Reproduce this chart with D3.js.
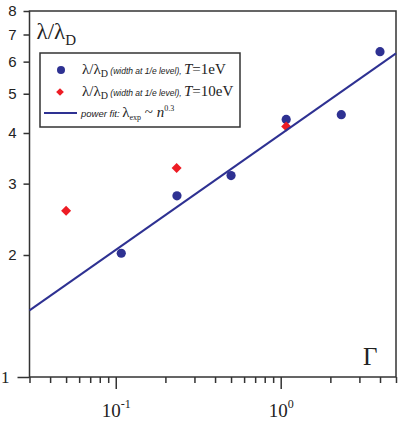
<!DOCTYPE html>
<html>
<head>
<meta charset="utf-8">
<script src="https://cdn.jsdelivr.net/npm/d3@7"></script>
<style>
  body { margin: 0; background: #fff; }
  .axis path, .axis line { stroke: #333; stroke-width: 1.5; }
  .serif { font-family: "Liberation Serif", "Times New Roman", serif; }
  .sans { font-family: "Liberation Sans", Arial, sans-serif; }
</style>
</head>
<body>
<script>

// values
var gamma1eV = [0.108, 0.235, 0.5, 1.08, 2.33, 4.0],
    ratio1eV = [2.02, 2.80, 3.14, 4.32, 4.44, 6.35];

var gamma10eV = [0.05, 0.234, 1.08],
    ratio10eV = [2.57, 3.28, 4.15];

// power fit end points (lambda ~ n^0.3)
var fitGamma = [0.03, 5],
    fitRatio = [1.46, 6.29];

var yTicks = [2, 3, 4, 5, 6, 7, 8],
    xMinorTicks = [0.03, 0.04, 0.05, 0.06, 0.07, 0.08, 0.09,
                   0.2, 0.3, 0.4, 0.5, 0.6, 0.7, 0.8, 0.9,
                   2, 3, 4, 5],
    xMajorTicks = [0.1, 1],
    xMajorLabels = ["-1", "0"];

var navy = "#2e3192",
    red = "#ed1c24";

var margin = {top: 11, right: 3, bottom: 45, left: 29.5},
    width = 399 - margin.left - margin.right,
    height = 422 - margin.top - margin.bottom;

var x = d3.scaleLog().domain([0.03, 5]).range([0, width]),
    y = d3.scaleLog().domain([1, 8]).range([height, 0]);

var svg = d3.select("body").append("svg")
    .attr("width", 399)
    .attr("height", 422)
    .append("g")
    .attr("transform", "translate(" + margin.left + "," + margin.top + ")");

// frame
svg.append("rect")
    .attr("width", width)
    .attr("height", height)
    .attr("fill", "none")
    .attr("stroke", "#333")
    .attr("stroke-width", 1.5);

// y axis: minor ticks with labels, major tick at 1
svg.append("g")
    .attr("class", "axis sans")
    .call(d3.axisLeft(y).tickValues(yTicks).tickSize(6).tickPadding(7)
        .tickFormat(d3.format("d")).tickSizeOuter(0))
    .call(function(g) { g.select(".domain").remove(); })
    .selectAll("text")
    .attr("font-size", 15)
    .attr("fill", "#222");

svg.append("g")
    .attr("class", "axis serif")
    .call(d3.axisLeft(y).tickValues([1]).tickSize(12).tickPadding(8)
        .tickFormat(d3.format("d")).tickSizeOuter(0))
    .call(function(g) { g.select(".domain").remove(); })
    .selectAll("text")
    .attr("font-size", 17)
    .attr("fill", "#222");

// x axis
svg.append("g")
    .attr("class", "axis")
    .attr("transform", "translate(0," + height + ")")
    .call(d3.axisBottom(x).tickValues(xMinorTicks).tickSize(6)
        .tickFormat("").tickSizeOuter(0))
    .call(function(g) { g.select(".domain").remove(); });

var xMaj = svg.append("g")
    .attr("class", "axis")
    .attr("transform", "translate(0," + height + ")")
    .call(d3.axisBottom(x).tickValues(xMajorTicks).tickSize(12)
        .tickFormat("").tickSizeOuter(0))
    .call(function(g) { g.select(".domain").remove(); });

xMaj.selectAll(".tick").append("text")
    .attr("class", "serif")
    .attr("y", 40)
    .attr("text-anchor", "middle")
    .attr("fill", "#222")
    .attr("font-size", 19)
    .each(function(d, i) {
        var t = d3.select(this);
        t.append("tspan").text("10");
        t.append("tspan").attr("font-size", 12).attr("dy", -9).text(xMajorLabels[i]);
    });

// data
svg.append("g").selectAll("circle")
    .data(gamma1eV)
    .enter().append("circle")
    .attr("cx", function(d) { return x(d); })
    .attr("cy", function(d, i) { return y(ratio1eV[i]); })
    .attr("r", 4.6)
    .attr("fill", navy);

var diamond = d3.symbol().type(d3.symbolSquare).size(50);

svg.append("g").selectAll("path")
    .data(gamma10eV)
    .enter().append("path")
    .attr("d", diamond)
    .attr("transform", function(d, i) {
        return "translate(" + x(d) + "," + y(ratio10eV[i]) + ") rotate(45)";
    })
    .attr("fill", red);

var line = d3.line()
    .x(function(d) { return x(d); })
    .y(function(d, i) { return y(fitRatio[i]); });

svg.append("path")
    .datum(fitGamma)
    .attr("d", line)
    .attr("fill", "none")
    .attr("stroke", navy)
    .attr("stroke-width", 2);

// axis titles
var yt = svg.append("text")
    .attr("class", "serif")
    .attr("x", 7)
    .attr("y", 28)
    .attr("font-size", 23)
    .attr("fill", "#222");
yt.append("tspan").text("λ/λ");
yt.append("tspan").attr("font-size", 15).attr("dy", 6).text("D");

svg.append("text")
    .attr("class", "serif")
    .attr("x", width - 33)
    .attr("y", height - 12)
    .attr("font-size", 25)
    .attr("fill", "#222")
    .text("Γ");

// legend
var legend = svg.append("g")
    .attr("transform", "translate(" + (40 - margin.left) + "," + (53 - margin.top) + ")");

legend.append("rect")
    .attr("width", 200)
    .attr("height", 74)
    .attr("fill", "#fff")
    .attr("stroke", "#333")
    .attr("stroke-width", 1.5);

legend.append("circle")
    .attr("cx", 21)
    .attr("cy", 17)
    .attr("r", 4)
    .attr("fill", navy);

legend.append("path")
    .attr("d", d3.symbol().type(d3.symbolSquare).size(30))
    .attr("transform", "translate(20,39) rotate(45)")
    .attr("fill", red);

legend.append("line")
    .attr("x1", 4).attr("x2", 37)
    .attr("y1", 60).attr("y2", 60)
    .attr("stroke", navy)
    .attr("stroke-width", 2);

function entry(yPos, temp) {
    var t = legend.append("text")
        .attr("class", "serif")
        .attr("x", 42)
        .attr("y", yPos)
        .attr("font-size", 15)
        .attr("fill", "#222");
    t.append("tspan").text("λ/λ");
    t.append("tspan").attr("font-size", 10).attr("dy", 3).text("D");
    t.append("tspan").attr("class", "sans").attr("font-style", "italic")
        .attr("font-size", 8.5).attr("dy", -3).text(" (width at 1/e level), ");
    t.append("tspan").attr("font-style", "italic").text("T");
    t.append("tspan").text("=" + temp);
}
entry(21, "1eV");
entry(43, "10eV");

var ft = legend.append("text")
    .attr("class", "serif")
    .attr("x", 41)
    .attr("y", 64)
    .attr("font-size", 15)
    .attr("fill", "#222");
ft.append("tspan").attr("class", "sans").attr("font-style", "italic")
    .attr("font-size", 9.5).text("power fit: ");
ft.append("tspan").text("λ");
ft.append("tspan").attr("font-size", 8).attr("dy", 3).text("exp");
ft.append("tspan").attr("dy", -3).text(" ~ ");
ft.append("tspan").attr("font-style", "italic").text("n");
ft.append("tspan").attr("font-size", 8).attr("dy", -6).text("0.3");

</script>
</body>
</html>
